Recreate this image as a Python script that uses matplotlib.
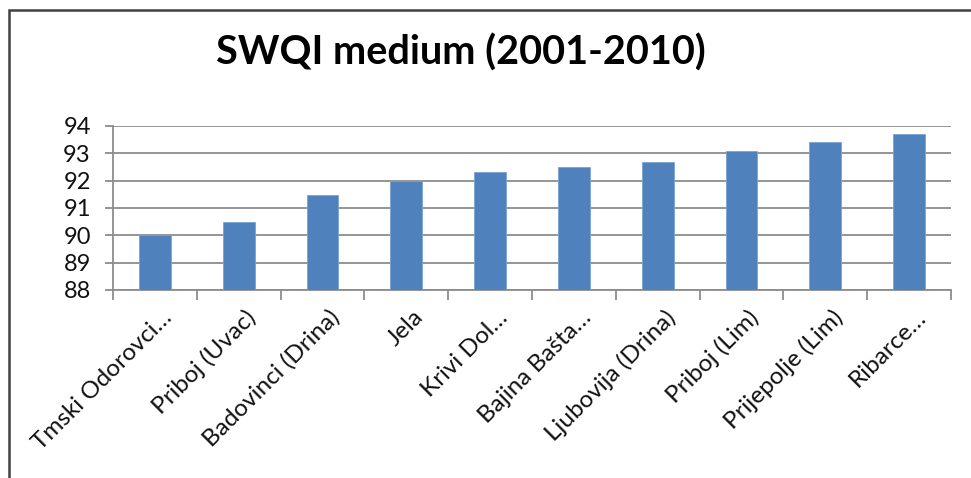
import matplotlib
matplotlib.use("Agg")
import matplotlib.pyplot as plt
from matplotlib.patches import Rectangle
import matplotlib.transforms as mtransforms
import numpy as np

categories = ["Tmski Odorovci…", "Priboj (Uvac)", "Badovinci (Drina)", "Jela", "Krivi Dol…",
              "Bajina Bašta…", "Ljubovija (Drina)", "Priboj (Lim)", "Prijepolje (Lim)", "Ribarce…"]
values = [90.0, 90.5, 91.47, 92.0, 92.32, 92.5, 92.68, 93.1, 93.42, 93.72]
yticks = [88, 89, 90, 91, 92, 93, 94]
title = "SWQI medium (2001-2010)"

W, H = 971, 478
fig = plt.figure(figsize=(W / 100, H / 100), dpi=100)
fig.patch.set_facecolor("white")

# outer chart border (cut off at right and bottom)
fig.patches.append(Rectangle((9 / W, -0.02), 1.05, 1 - 10 / H + 0.02, transform=fig.transFigure,
                             fill=False, edgecolor="#404040", linewidth=1.8, clip_on=False))

ax = fig.add_axes([113 / W, 1 - 290 / H, (951 - 113) / W, (290 - 126) / H])
x = np.arange(len(categories))
ax.bar(x, [v - 88 for v in values], bottom=88, width=0.38, color="#4F81BD",
       edgecolor="#7aa3d6", linewidth=0.6, zorder=3)

ax.set_xlim(-0.5, len(categories) - 0.5)
ax.set_ylim(88, 94)
ax.set_yticks(yticks)
ax.set_yticklabels([str(t) for t in yticks], fontsize=17, family="Lato", color="#111111")
ax.yaxis.grid(True, color="#8c8c8c", linewidth=1.3, zorder=0)
ax.set_axisbelow(True)

for s in ["top", "right"]:
    ax.spines[s].set_visible(False)
ax.spines["left"].set_color("#8c8c8c")
ax.spines["bottom"].set_color("#8c8c8c")
ax.spines["left"].set_linewidth(1.3)
ax.spines["bottom"].set_linewidth(1.3)
ax.tick_params(axis="y", length=6, width=1.3, color="#8c8c8c", pad=10)

ax.set_xticks(x)
ax.set_xticklabels([])
ax.tick_params(axis="x", which="major", length=0)
ax.set_xticks(np.arange(-0.5, len(categories)), minor=True)
ax.tick_params(axis="x", which="minor", length=7, width=1.3, color="#8c8c8c")

for xi, lab in zip(x, categories):
    off = mtransforms.offset_copy(ax.get_xaxis_transform(), fig=fig, x=14, y=-24, units="dots")
    ax.text(xi, 0, lab, transform=off, rotation=45, rotation_mode="anchor",
            ha="right", va="center", fontsize=17.5, family="Lato", color="#111111")

fig.text(461 / W, 1 - 53 / H, title, ha="center", va="center", fontsize=28.5,
         family="Lato", fontweight="bold", color="#000000")

fig.savefig("out.png", dpi=100)
